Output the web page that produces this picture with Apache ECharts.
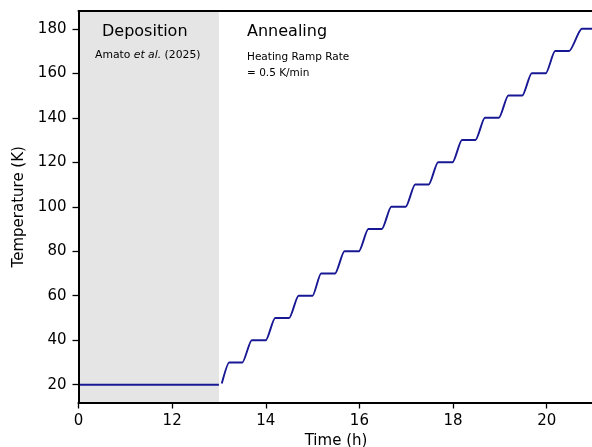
<!DOCTYPE html>
<html>
<head>
<meta charset="utf-8">
<script src="https://cdn.jsdelivr.net/npm/echarts@6/dist/echarts.min.js"></script>
<style>html,body{margin:0;padding:0;background:#fff}#c{width:592px;height:447px}</style>
</head>
<body>
<div id="c"></div>
<script>
// Deposition phase (axis value 10 is labelled "0")
const depTime = [10, 13.0];
const depTemp = [20, 20];
// Annealing stepped ramp
const annTime = [13.06, 13.22, 13.50, 13.70, 14.00, 14.20, 14.50, 14.70, 15.00, 15.18, 15.48, 15.68, 15.99, 16.19, 16.48, 16.68, 16.99, 17.19, 17.48, 17.68, 17.99, 18.19, 18.48, 18.68, 18.98, 19.18, 19.48, 19.68, 19.98, 20.18, 20.48, 20.75, 21.1];
const annTemp = [20.5, 30, 30, 40, 40, 50, 50, 60, 60, 70, 70, 80, 80, 90, 90, 100, 100, 110, 110, 120, 120, 130, 130, 140, 140, 150, 150, 160, 160, 170, 170, 180, 180];
const xTicks = [10, 12, 14, 16, 18, 20];
const xTickLabels = ['0', '12', '14', '16', '18', '20'];
const yTicks = [20, 40, 60, 80, 100, 120, 140, 160, 180];
const depositionSpan = [10, 13];

const font = 'DejaVu Sans';
const chart = echarts.init(document.getElementById('c'));
const zip = (a, b) => a.map((v, i) => [v, b[i]]);
chart.setOption({
  animation: false,
  backgroundColor: '#fff',
  grid: { left: 78.5, right: -1.5, top: 11, bottom: 44.5, containLabel: false, outerBoundsMode: 'none' },
  xAxis: [{
    type: 'value', min: 10, max: 21, interval: 2, z: 10,
    axisLine: { show: true, onZero: false, lineStyle: { color: '#000', width: 2 } },
    axisTick: { show: true, length: 6, lineStyle: { color: '#000', width: 1.3 } },
    splitLine: { show: false },
    axisLabel: { color: '#000', fontFamily: font, fontSize: 15, margin: 11,
      formatter: v => { const i = xTicks.indexOf(v); return i >= 0 ? xTickLabels[i] : ''; } },
    name: 'Time (h)', nameLocation: 'middle', nameGap: 31,
    nameTextStyle: { color: '#000', fontFamily: font, fontSize: 15 }
  }, {
    type: 'value', min: 10, max: 21, position: 'top', z: 10,
    axisLine: { show: true, onZero: false, lineStyle: { color: '#000', width: 2 } },
    axisTick: { show: false }, axisLabel: { show: false }, splitLine: { show: false }
  }],
  yAxis: [{
    type: 'value', min: 12, max: 188, z: 10,
    axisLine: { show: true, onZero: false, lineStyle: { color: '#000', width: 2 } },
    axisTick: { show: true, length: 6, customValues: yTicks, lineStyle: { color: '#000', width: 1.3 } },
    splitLine: { show: false },
    axisLabel: { color: '#000', fontFamily: font, fontSize: 15, margin: 12, customValues: yTicks },
    name: 'Temperature (K)', nameLocation: 'middle', nameGap: 47,
    nameTextStyle: { color: '#000', fontFamily: font, fontSize: 15 }
  }],
  series: [{
    type: 'line', data: zip(depTime, depTemp), symbol: 'none',
    lineStyle: { color: '#181894', width: 1.9 },
    markArea: { silent: true, itemStyle: { color: '#e5e5e5' },
      data: [[{ xAxis: depositionSpan[0] }, { xAxis: depositionSpan[1] }]] },
    z: 2
  }, {
    type: 'line', data: zip(annTime, annTemp), symbol: 'none',
    smooth: 0.25, smoothMonotone: 'x',
    lineStyle: { color: '#181894', width: 1.9 }, z: 3
  }],
  graphic: [
    { type: 'text', z: 100, left: 102, top: 24, style: { text: 'Deposition', font: '16px "DejaVu Sans"', fill: '#000' } },
    { type: 'text', z: 100, left: 95, top: 50, style: { rich: { a: { fontFamily: font, fontSize: 10.8, fill: '#000', fontStyle: 'normal' }, i: { fontFamily: font, fontSize: 10.8, fill: '#000', fontStyle: 'italic' } }, text: '{a|Amato }{i|et al.}{a| (2025)}' } },
    { type: 'text', z: 100, left: 247, top: 24, style: { text: 'Annealing', font: '16px "DejaVu Sans"', fill: '#000' } },
    { type: 'text', z: 100, left: 247, top: 49, style: { text: 'Heating Ramp Rate\n= 0.5 K/min', font: '10.5px "DejaVu Sans"', fill: '#000', lineHeight: 16 } }
  ]
});
</script>
</body>
</html>
